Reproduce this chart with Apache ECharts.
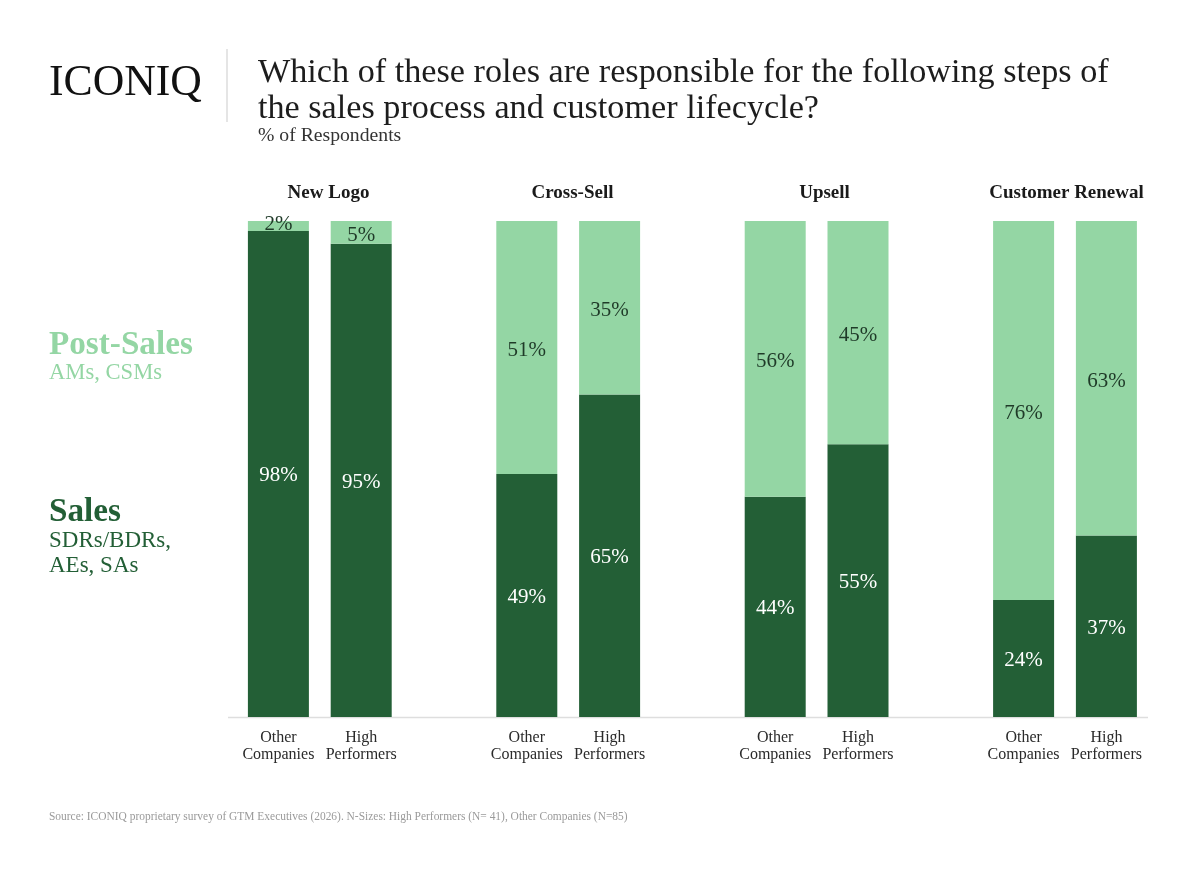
<!DOCTYPE html>
<html><head><meta charset="utf-8">
<style>html,body{margin:0;padding:0;background:#fff}#c{width:1200px;height:870px}</style>
<script src="https://cdn.jsdelivr.net/npm/echarts@6/dist/echarts.min.js"></script></head>
<body><div id="c"></div>
<script>
const categories=['Other\nCompanies','High\nPerformers','','Other\nCompanies','High\nPerformers','','Other\nCompanies','High\nPerformers','','Other\nCompanies','High\nPerformers'];
const salesValues=[98,95.4,null,49,65,null,44.4,55,null,23.6,36.6];
const postSalesValues=[2,4.6,null,51,35,null,55.6,45,null,76.4,63.4];
const groupTitles=['New Logo','Cross-Sell','Upsell','Customer Renewal'];
const groupCenters=[328.5,572.5,824.5,1066.5];
const titleText='Which of these roles are responsible for the following steps of\nthe sales process and customer lifecycle?';
const FONT='"Liberation Serif",serif';
const DARK='#235f36',LIGHT='#94d6a4';
const txt=(text,left,top,fontSize,color,extra)=>({text,left,top,padding:0,textStyle:Object.assign({fontFamily:FONT,fontSize,color,fontWeight:'normal'},extra||{})});
const pct=p=>Math.round(p.value)+'%';
const chart=echarts.init(document.getElementById('c'),null,{renderer:'canvas'});
chart.setOption({
 backgroundColor:'#fff',animation:false,
 title:[
  txt('ICONIQ',49,62,43.7,'#111111'),
  txt(titleText,258,55,34.2,'#1d1d1d',{lineHeight:36}),
  txt('% of Respondents',258,126,19.7,'#333333'),
  txt('Post-Sales',49,329,33.2,LIGHT,{fontWeight:'bold'}),
  txt('AMs, CSMs',49,362,22.6,LIGHT),
  txt('Sales',49,496,33.2,DARK,{fontWeight:'bold'}),
  txt('SDRs/BDRs,\nAEs, SAs',49,528,23,DARK,{lineHeight:25}),
  txt('Source: ICONIQ proprietary survey of GTM Executives (2026). N-Sizes: High Performers (N= 41), Other Companies (N=85)',49,811,11.45,'#9a9a9a'),
  ...groupTitles.map((t,i)=>({text:t,left:groupCenters[i],top:184,padding:0,textAlign:'center',textStyle:{fontFamily:FONT,fontSize:19,color:'#1a1a1a',fontWeight:'bold'}}))
 ],
 graphic:[
  {type:'line',shape:{x1:227,y1:49,x2:227,y2:122},style:{stroke:'#dddddd',lineWidth:1.5}},
  {type:'line',shape:{x1:228,y1:717.5,x2:1148,y2:717.5},style:{stroke:'#dedede',lineWidth:1.5},z:0}
 ],
 grid:{left:237,right:52.2,top:221,bottom:153,containLabel:false},
 xAxis:{type:'category',data:categories,axisLine:{show:false},axisTick:{show:false},
  axisLabel:{interval:0,margin:13,fontFamily:FONT,fontSize:16,lineHeight:16.5,color:'#2a2a2a',align:'center'}},
 yAxis:{type:'value',min:0,max:100,show:false},
 series:[
  {name:'Sales',type:'bar',stack:'t',barWidth:61,data:salesValues,itemStyle:{color:DARK},
   label:{show:true,position:'inside',offset:[0,2],formatter:pct,fontFamily:FONT,fontSize:21,color:'#ffffff'}},
  {name:'Post-Sales',type:'bar',stack:'t',barWidth:61,
   data:postSalesValues.map((v,i)=>i===0?{value:v,label:{offset:[0,-1]}}:v),itemStyle:{color:LIGHT},
   label:{show:true,position:'inside',offset:[0,3],formatter:pct,fontFamily:FONT,fontSize:21,color:'#1f3a28'}}
 ]
});
</script></body></html>
